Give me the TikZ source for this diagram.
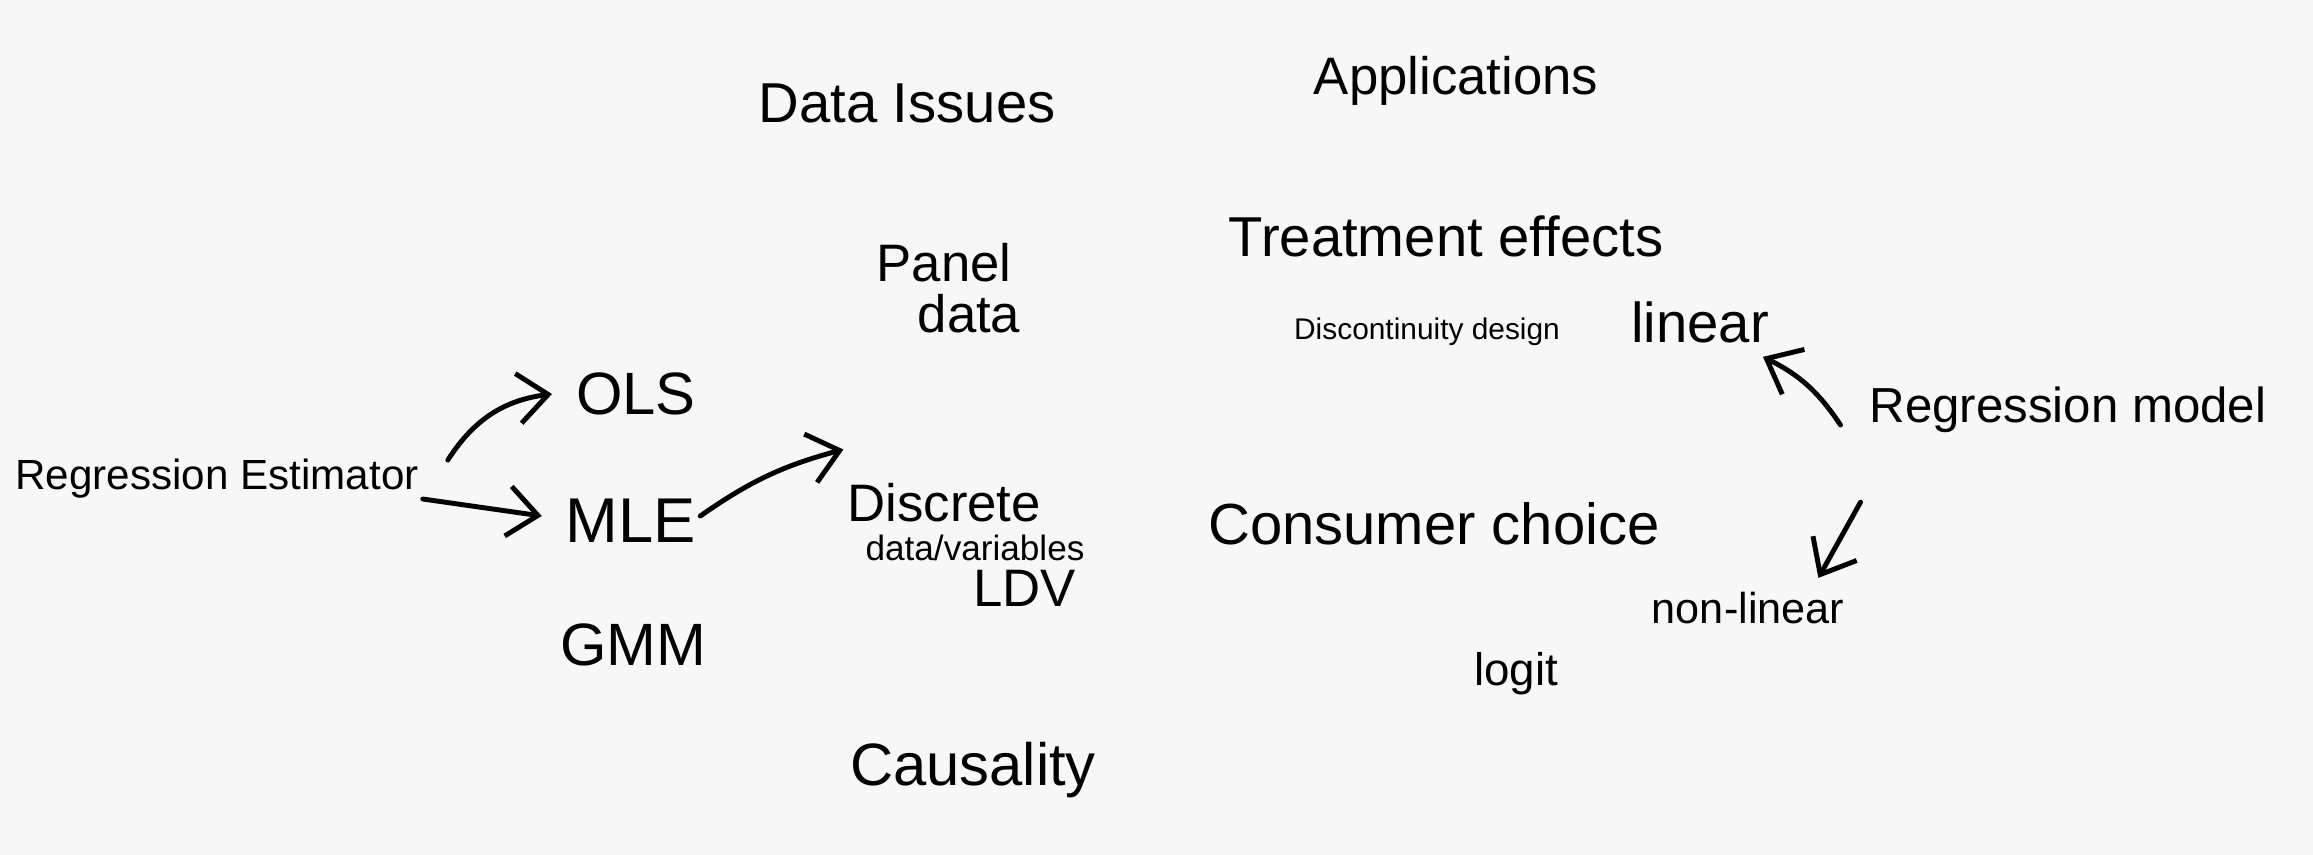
\documentclass[tikz,border=0pt]{standalone}
\usepackage{fontspec}
\setmainfont{Liberation Sans}
\usetikzlibrary{arrows.meta}
\definecolor{bgcol}{RGB}{247,247,247}
\tikzset{
  lbl/.style={inner sep=1pt, text=black},
  conn/.style={line width=1.4pt, -{Straight Barb[length=3mm,width=5mm,line width=1.4pt]}, line cap=round},
}
\newcommand{\fs}[1]{\fontsize{#1}{1.1\dimexpr #1pt\relax}\selectfont}
\begin{document}
\begin{tikzpicture}
\fill[bgcol] (0,0) rectangle (23.13,-8.55);
\useasboundingbox (0,0) rectangle (23.13,-8.55);
% nodes
\node[lbl, font=\fs{16}] (dataissues) at (9.07,-1.03) {Data Issues};
\node[lbl, font=\fs{15}] (applications) at (14.56,-0.81) {Applications};
\node[lbl, font=\fs{15}, align=center] (panel) at (9.44,-2.88) {Panel\\[-2pt]\hspace*{0.5cm}data};
\node[lbl, font=\fs{16}] (treatment) at (14.46,-2.36) {Treatment effects};
\node[lbl, font=\fs{8.5}] (discont) at (14.27,-3.32) {Discontinuity design};
\node[lbl, font=\fs{16}] (linear) at (17.00,-3.22) {linear};
\node[lbl, font=\fs{14}] (regmodel) at (20.68,-4.10) {Regression model};
\node[lbl, font=\fs{12}] (regest) at (2.17,-4.79) {Regression Estimator};
\node[lbl, font=\fs{17}] (ols) at (6.36,-3.94) {OLS};
\node[lbl, font=\fs{18}] (mle) at (6.31,-5.21) {MLE};
\node[lbl, font=\fs{17}] (gmm) at (6.33,-6.45) {GMM};
\node[lbl, align=left] (discrete) at (9.66,-5.45)
  {\fs{15}Discrete\\[-1pt]\hspace*{0.18cm}\fs{10}data/variables\\[1pt]\hspace*{1.26cm}\fs{15}LDV};
\node[lbl, font=\fs{17}] (causality) at (9.73,-7.70) {Causality};
\node[lbl, font=\fs{16.5}] (consumer) at (14.34,-5.24) {Consumer choice};
\node[lbl, font=\fs{12.3}] (nonlinear) at (17.48,-6.08) {non-linear};
\node[lbl, font=\fs{13}] (logit) at (15.16,-6.74) {logit};
% connectors
\draw[conn] ([xshift=0.25cm,yshift=-0.05cm]regest.north east) to[bend left=25] ([xshift=-0.2cm]ols.west);
\draw[conn] ([yshift=-0.2cm]regest.east) to ([xshift=-0.2cm,yshift=0.05cm]mle.west);
\draw[conn] ([yshift=0.05cm]mle.east) to[bend left=10] ([yshift=0.3cm]discrete.north west);
\draw[conn] ([xshift=-0.25cm,yshift=-0.15cm]regmodel.west) to[bend right=15] ([xshift=-0.1cm,yshift=-0.1cm]linear.south east);
\draw[conn] ([xshift=-0.05cm,yshift=-0.65cm]regmodel.south west) to ([xshift=-0.3cm,yshift=0.1cm]nonlinear.north east);
\end{tikzpicture}
\end{document}
